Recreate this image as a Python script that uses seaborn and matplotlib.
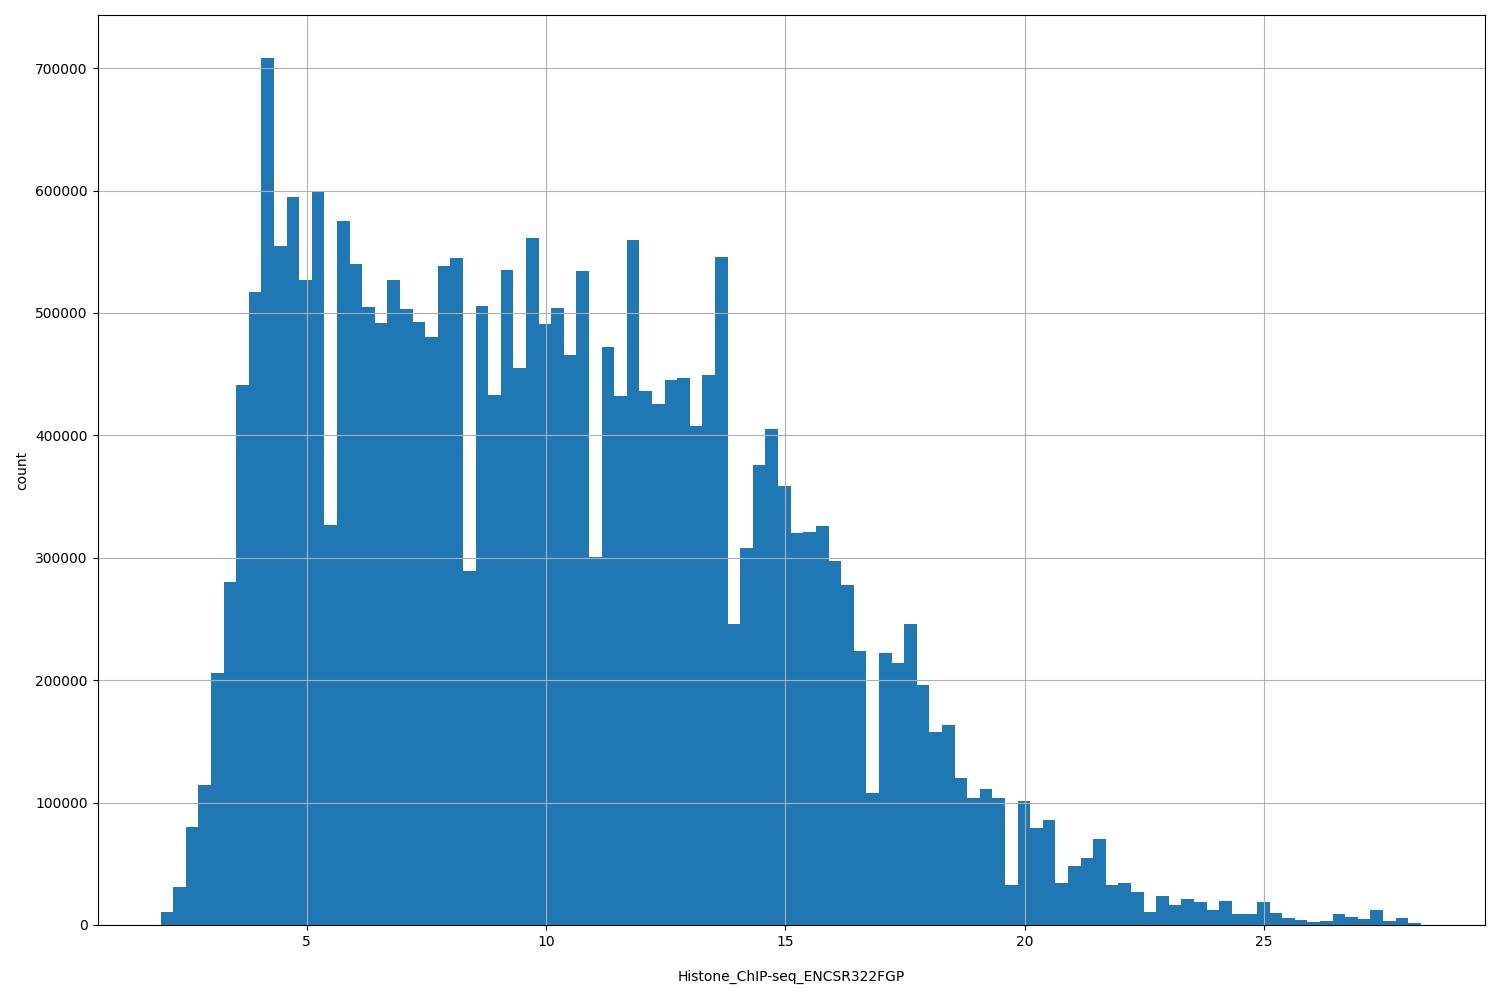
import numpy as np
import pandas as pd
import matplotlib
matplotlib.use("Agg")
import matplotlib.pyplot as plt
import seaborn as sns

# histogram counts (100 equal bins)
bin_start = 1.949
bin_end = 28.28
counts = [11000, 31000, 80000, 114000, 206000, 280000, 441000, 517000, 708000, 555000,
          595000, 527000, 600000, 327000, 575000, 540000, 505000, 492000, 527000, 503000,
          493000, 480000, 538000, 545000, 289000, 506000, 433000, 535000, 455000, 561000,
          491000, 504000, 466000, 534000, 301000, 472000, 432000, 560000, 436000, 426000,
          445000, 447000, 408000, 449000, 546000, 246000, 308000, 376000, 405000, 359000,
          320000, 321000, 326000, 297000, 278000, 224000, 108000, 222000, 214000, 246000,
          196000, 158000, 163000, 120000, 104000, 111000, 104000, 33000, 101000, 79000,
          86000, 34000, 48000, 55000, 70000, 33000, 34000, 27000, 11000, 24000,
          16000, 21000, 19000, 12000, 20000, 9000, 9000, 19000, 10000, 6000,
          4000, 2500, 3500, 9000, 6500, 5000, 12000, 3500, 6000, 2000]

edges = np.linspace(bin_start, bin_end, len(counts) + 1)
df = pd.DataFrame({"value": (edges[:-1] + edges[1:]) / 2, "count": counts})

fig, ax = plt.subplots(figsize=(15, 10), dpi=100)
fig.subplots_adjust(left=0.065, right=0.99, top=0.985, bottom=0.075)
sns.histplot(data=df, x="value", weights="count", bins=len(counts),
             binrange=(bin_start, bin_end), ax=ax,
             color="#1f77b4", alpha=1, linewidth=0)
ax.set_xlim(0.632, 29.62)
ax.grid(True, color="#b0b0b0", linewidth=0.8)
ax.set_xlabel("Histone_ChIP-seq_ENCSR322FGP", labelpad=15)
ax.set_ylabel("count")
fig.savefig("out.png")
